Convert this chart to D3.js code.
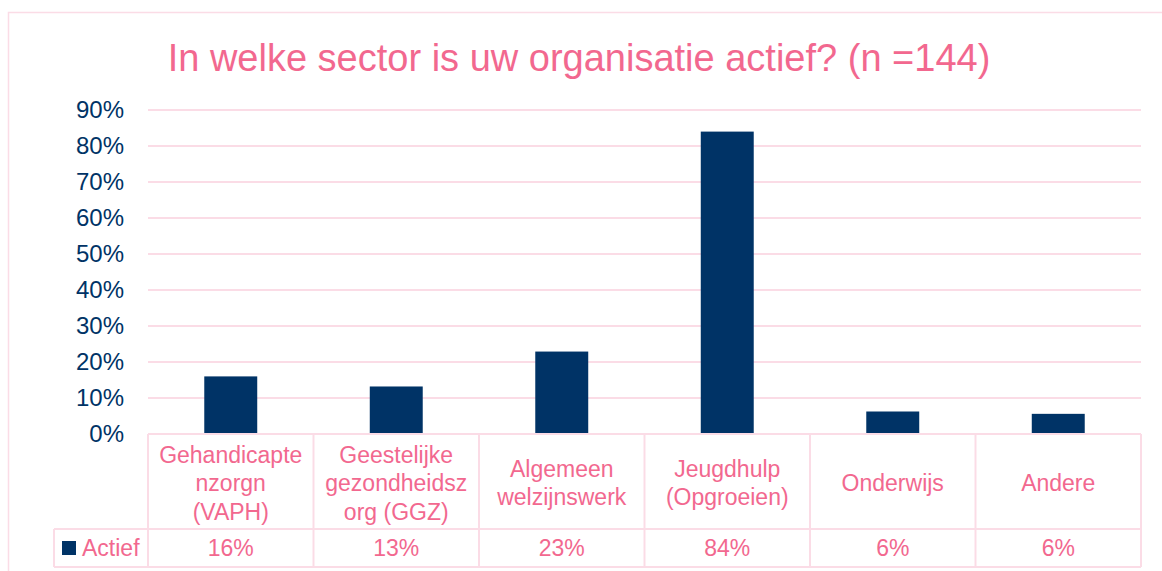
<!DOCTYPE html>
<html lang="nl">
<head>
    <meta charset="UTF-8">
    <title>In welke sector is uw organisatie actief?</title>
    <script src="https://cdn.jsdelivr.net/npm/d3@7/dist/d3.min.js"></script>
    <style>
        body { margin: 0; background: #fff; }
        text { font-family: Tahoma, 'Liberation Sans', Arial, sans-serif; }
    </style>
</head>
<body>
<script type="application/javascript">
    // data
    const categories = ['Gehandicaptenzorgn (VAPH)', 'Geestelijke gezondheidszorg (GGZ)',
        'Algemeen welzijnswerk', 'Jeugdhulp (Opgroeien)', 'Onderwijs', 'Andere'];
    // lines as wrapped in the chart
    const categoryLines = [
        ['Gehandicapte', 'nzorgn', '(VAPH)'],
        ['Geestelijke', 'gezondheidsz', 'org (GGZ)'],
        ['Algemeen', 'welzijnswerk'],
        ['Jeugdhulp', '(Opgroeien)'],
        ['Onderwijs'],
        ['Andere']
    ];
    const actief = [0.16, 0.132, 0.229, 0.84, 0.0625, 0.056];
    const actiefLabels = ['16%', '13%', '23%', '84%', '6%', '6%'];
    const yTicks = [0, 0.1, 0.2, 0.3, 0.4, 0.5, 0.6, 0.7, 0.8, 0.9];
    const seriesName = 'Actief';
    const title = 'In welke sector is uw organisatie actief? (n =144)';

    const w = 1162, h = 571;
    const pink = '#f2688f', grid = '#fbdce6', navy = '#003366';
    const plotLeft = 148, plotRight = 1141, plotTop = 110, plotBottom = 434;
    const rowLabelBottom = 529, rowValueBottom = 567, legendLeft = 54;

    let svg = d3.select('body')
        .append('svg')
        .attr('width', w)
        .attr('height', h);

    // outer frame
    svg.append('rect')
        .attr('x', 8.5).attr('y', 12.5)
        .attr('width', w + 20).attr('height', h + 20)
        .attr('fill', 'none')
        .attr('stroke', grid)
        .attr('stroke-width', 1.5);

    svg.append('text')
        .attr('x', 579).attr('y', 71)
        .attr('text-anchor', 'middle')
        .attr('font-size', '38px')
        .attr('fill', pink)
        .text(title);

    let xScale = d3.scaleBand()
        .domain(d3.range(categories.length))
        .range([plotLeft, plotRight]);

    let yScale = d3.scaleLinear()
        .domain([0, 0.9])
        .range([plotBottom, plotTop]);

    // gridlines
    svg.selectAll('line.grid')
        .data(yTicks.filter(d => d > 0))
        .enter()
        .append('line')
        .attr('class', 'grid')
        .attr('x1', plotLeft).attr('x2', plotRight)
        .attr('y1', d => yScale(d)).attr('y2', d => yScale(d))
        .attr('stroke', grid)
        .attr('stroke-width', 2);

    // y axis labels
    let yAxis = d3.axisLeft(yScale)
        .tickValues(yTicks)
        .tickFormat(d3.format('.0%'))
        .tickSize(0)
        .tickPadding(24);
    let ya = svg.append('g')
        .attr('transform', `translate(${plotLeft},0)`)
        .call(yAxis);
    ya.select('.domain').remove();
    ya.selectAll('text')
        .attr('font-size', '24px')
        .attr('fill', navy)
        .attr('font-family', "Tahoma, 'Liberation Sans', Arial, sans-serif");

    // bars
    const barW = xScale.bandwidth() * 0.32;
    svg.selectAll('rect.bar')
        .data(actief)
        .enter()
        .append('rect')
        .attr('class', 'bar')
        .attr('x', (d, i) => xScale(i) + (xScale.bandwidth() - barW) / 2)
        .attr('y', d => yScale(d))
        .attr('width', barW)
        .attr('height', d => plotBottom - yScale(d))
        .attr('fill', navy);

    // data table lines
    let tbl = svg.append('g')
        .attr('stroke', grid)
        .attr('stroke-width', 2);
    tbl.append('line').attr('x1', plotLeft).attr('x2', plotRight).attr('y1', plotBottom).attr('y2', plotBottom);
    tbl.append('line').attr('x1', legendLeft).attr('x2', plotRight).attr('y1', rowLabelBottom).attr('y2', rowLabelBottom);
    tbl.append('line').attr('x1', legendLeft).attr('x2', plotRight).attr('y1', rowValueBottom).attr('y2', rowValueBottom);
    tbl.append('line').attr('x1', legendLeft).attr('x2', legendLeft).attr('y1', rowLabelBottom).attr('y2', rowValueBottom);
    tbl.selectAll('line.v')
        .data(d3.range(categories.length + 1))
        .enter()
        .append('line')
        .attr('class', 'v')
        .attr('x1', i => i < categories.length ? xScale(i) : plotRight)
        .attr('x2', i => i < categories.length ? xScale(i) : plotRight)
        .attr('y1', plotBottom).attr('y2', rowValueBottom);

    // category labels
    const lineH = 28.5, labelMid = 483;
    let cat = svg.selectAll('text.cat')
        .data(categoryLines)
        .enter()
        .append('text')
        .attr('class', 'cat')
        .attr('text-anchor', 'middle')
        .attr('font-size', '23px')
        .attr('fill', pink);
    cat.selectAll('tspan')
        .data((d, i) => d.map((s, j) => ({s, j, n: d.length, i})))
        .enter()
        .append('tspan')
        .attr('x', d => xScale(d.i) + xScale.bandwidth() / 2)
        .attr('y', d => labelMid + (d.j - (d.n - 1) / 2) * lineH + 8)
        .text(d => d.s);

    // value row
    svg.selectAll('text.val')
        .data(actiefLabels)
        .enter()
        .append('text')
        .attr('class', 'val')
        .attr('x', (d, i) => xScale(i) + xScale.bandwidth() / 2)
        .attr('y', 556)
        .attr('text-anchor', 'middle')
        .attr('font-size', '23px')
        .attr('fill', pink)
        .text(d => d);

    // legend key
    svg.append('rect')
        .attr('x', 62).attr('y', 541)
        .attr('width', 14).attr('height', 14)
        .attr('fill', navy);
    svg.append('text')
        .attr('x', 82).attr('y', 556)
        .attr('font-size', '23px')
        .attr('fill', pink)
        .text(seriesName);
</script>
</body>
</html>
